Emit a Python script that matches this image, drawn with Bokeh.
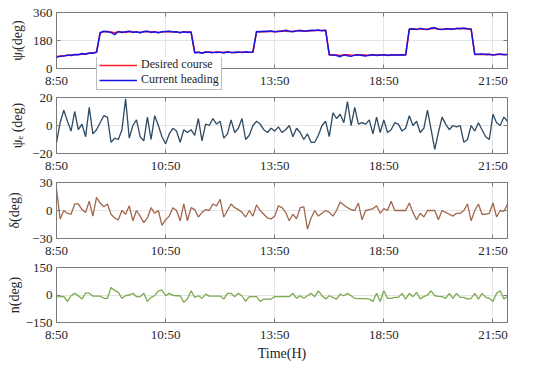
from bokeh.plotting import figure
from bokeh.layouts import column
from bokeh.models import FixedTicker, LinearAxis, Range1d, Legend, LegendItem
from bokeh.embed import file_html
from bokeh.resources import INLINE

# ---------------- data ----------------
x_ticks = [0, 30, 60, 90, 120]
x_tick_labels = ["8:50", "10:50", "13:50", "18:50", "21:50"]

desired_course = [
    77, 80, 82, 84, 86, 88, 90, 92, 95, 98, 102, 104,
    232, 236, 238, 234, 230, 236, 234, 232, 238, 236, 234, 232, 236, 238, 236, 234, 232, 234, 236, 238, 236, 234, 232, 234, 236, 234,
    105, 104, 102, 104, 106, 104, 103, 105, 104, 106, 104, 102, 104, 106, 104, 105, 104,
    236, 238, 236, 240, 238, 236, 240, 242, 240, 238, 240, 242, 244, 242, 240, 242, 244, 246, 244, 246,
    86, 88, 86, 84, 86, 88, 86, 85, 86, 88, 86, 84, 86, 86, 88, 86, 86, 88, 86, 86, 86, 88,
    252, 254, 252, 256, 254, 252, 256, 258, 254, 252, 254, 256, 254, 256, 258, 256, 254, 252,
    92, 90, 90, 92, 90, 88, 90, 92, 90, 90,
]
current_heading = [
    72, 78, 80, 86, 84, 90, 88, 96, 92, 100, 98, 104,
    228, 240, 236, 232, 218, 238, 232, 236, 240, 232, 236, 230, 238, 240, 232, 236, 230, 236, 238, 240, 234, 236, 230, 236, 232, 234,
    100, 104, 98, 106, 104, 102, 106, 104, 100, 108, 102, 104, 106, 102, 108, 104, 106,
    238, 236, 240, 238, 242, 236, 238, 240, 246, 240, 236, 242, 244, 240, 242, 246, 244, 248, 242, 246,
    88, 86, 84, 76, 88, 82, 78, 86, 88, 84, 80, 86, 88, 84, 86, 88, 84, 86, 88, 86, 88, 86,
    254, 256, 250, 258, 252, 250, 260, 262, 252, 250, 256, 254, 252, 258, 256, 260, 256, 254,
    90, 92, 94, 90, 92, 86, 90, 94, 88, 90,
]
psi_e = [
    -12, 2, 11, 3, -4, 10, -3, 1, -8, 13,
    -6, -3, 2, 7, 6, -12, -9, -10, -3, 19,
    -9, 0, 4, -8, -11, 6, -10, 7, 0, -8,
    -13, -6, -2, -4, -12, -3, -5, -3, -7, 5,
    -11, 1, 0, 5, 1, 3, -9, -6, 4, -5,
    -2, 5, -10, -7, 0, 3, 1, -3, -5, -2,
    -4, -1, -5, -3, 0, -8, -2, -5, -10, -6,
    -12, -12, -7, 0, 3, -8, 9, 5, 8, 2,
    17, 0, 13, 1, 2, 1, 4, -6, 6, -5,
    4, -5, -3, 2, 1, -4, -2, 7, 0, 3,
    -5, -2, 11, -3, -17, -5, 6, 1, -3, 0,
    -1, 0, -12, -10, 0, -4, 2, -3, -8, -10,
    8, 2, 0, 6, 3,
]
delta = [
    23, -9, 0, -3, -4, 7, 7, 1, -2, 10,
    -6, 14, 8, 4, 7, -4, -8, -10, 0, -4,
    5, -11, 0, -6, -13, -8, 3, -3, 0, -16,
    -10, -6, 3, 0, -11, 7, -11, 3, 1, -7,
    -2, 1, 0, 7, 5, 12, -7, 0, 7, 3,
    1, -2, -7, 0, -6, 6, 0, -4, -8, -9,
    -6, 5, 3, -2, -11, -4, -9, 3, 4, -20,
    -8, 0, -6, -3, 0, -2, -6, 0, 9, 6,
    3, 1, 0, 8, -10, 0, 1, 2, 5, -3,
    2, 0, 10, 0, 0, 0, 0, 8, -2, -10,
    -3, -7, 0, 0, 0, -10, 0, -2, -4, -6,
    -3, -3, 0, 7, -11, 0, 7, -4, -4, -3,
    8, -7, 0, -1, 7,
]
n_vals = [
    -10, -9, -7, -35, -4, 9, -4, -22, 10, 10,
    -6, -6, -6, -18, -18, 41, 25, 14, -18, -4,
    0, 9, -9, -9, 9, -35, -13, -4, 23, 27,
    -4, 9, -2, -4, -4, -40, -22, 23, -13, -4,
    -18, 5, -6, -6, -6, -6, -22, 9, 9, -9,
    9, -4, -35, -9, -9, -9, -35, -22, -22, -22,
    -9, -9, -9, -9, -9, 9, -18, -4, -18, -4,
    9, -9, 23, -4, -22, -4, -13, -22, 5, -4,
    9, -4, -18, -20, -20, -20, -22, -35, 9, -35,
    23, -18, -18, -13, -13, 9, -22, 9, -9, 14,
    -22, -9, 0, 23, -4, -7, -9, -18, 9, -18,
    9, -13, -13, -22, -18, 9, -22, 9, -13, -18,
    -35, 9, 23, -22, -9,
]
idx = list(range(len(desired_course)))

# ---------------- styling ----------------
FONT = "Liberation Serif"
TICK = "#7a7a7a"
GRID = "#e4e4e4"
LBL = "#262626"
RED = "#ff1f2a"
BLUE = "#1414e8"


def style_axis(ax, ticks, hidden=False):
    ax.ticker = FixedTicker(ticks=ticks)
    ax.major_tick_in = 4
    ax.major_tick_out = 0
    ax.minor_tick_in = 0
    ax.minor_tick_out = 0
    ax.axis_line_color = None
    ax.major_tick_line_color = TICK
    ax.major_label_text_font = FONT
    ax.major_label_text_color = LBL
    if hidden:
        ax.major_label_text_font_size = "0px"
        ax.major_label_standoff = 0
        ax.major_label_overrides = {t: "" for t in ticks}
    else:
        ax.major_label_text_font_size = "13px"


def make_fig(height, yticks, ylabel, ylab_standoff, top_b, bottom_b, xlabel=None):
    p = figure(width=527, height=height, output_backend="svg", toolbar_location=None,
               x_range=Range1d(0, 124), y_range=Range1d(yticks[0], yticks[-1]),
               min_border_left=56, min_border_right=20, min_border_top=top_b,
               min_border_bottom=bottom_b)
    p.outline_line_color = TICK
    p.outline_line_width = 1
    p.background_fill_color = "white"
    p.border_fill_color = "white"

    xa = p.xaxis[0]
    style_axis(xa, x_ticks)
    xa.major_label_overrides = dict(zip(x_ticks, x_tick_labels))
    xa.major_label_standoff = 4
    ya = p.yaxis[0]
    style_axis(ya, yticks)
    ya.major_label_standoff = 4
    ya.axis_label = ylabel
    ya.axis_label_text_font = FONT
    ya.axis_label_text_font_size = "14px"
    ya.axis_label_text_font_style = "normal"
    ya.axis_label_text_color = LBL
    ya.axis_label_standoff = ylab_standoff
    if xlabel:
        xa.axis_label = xlabel
        xa.axis_label_text_font = FONT
        xa.axis_label_text_font_size = "14px"
        xa.axis_label_text_font_style = "normal"
        xa.axis_label_text_color = LBL
        xa.axis_label_standoff = 1

    top = LinearAxis()
    style_axis(top, x_ticks, hidden=True)
    p.add_layout(top, "above")
    right = LinearAxis()
    style_axis(right, yticks, hidden=True)
    p.add_layout(right, "right")

    p.xgrid.ticker = FixedTicker(ticks=x_ticks)
    p.ygrid.ticker = FixedTicker(ticks=yticks)
    p.xgrid.grid_line_color = GRID
    p.ygrid.grid_line_color = GRID
    return p


# panel 1: frame 12..68
p1 = make_fig(90, [0, 180, 360], "ψₗ(deg)", 5, 12, 22)
p1.line(idx, desired_course, line_color=RED, line_width=1.5)
p1.line(idx, current_heading, line_color=BLUE, line_width=1.5)

# legend drawn in a small transparent figure that overlaps panel 1
# (the column aligns its plots' borders: 56 left, 20 right)
leg_fig = figure(width=56 + 128 + 20, height=34, output_backend="svg", toolbar_location=None,
                 x_axis_type=None, y_axis_type=None,
                 min_border_left=56, min_border_right=20, min_border_top=0, min_border_bottom=0,
                 x_range=Range1d(0, 1), y_range=Range1d(0, 1))
leg_fig.outline_line_color = None
leg_fig.background_fill_alpha = 0
leg_fig.border_fill_alpha = 0
# these lines lie outside the legend figure's ranges: only their legend glyphs show
g_des = leg_fig.line(idx, desired_course, line_color=RED, line_width=1.5)
g_cur = leg_fig.line(idx, current_heading, line_color=BLUE, line_width=1.5)
legend = Legend(items=[LegendItem(label="Desired course", renderers=[g_des]),
                       LegendItem(label="Current heading", renderers=[g_cur])],
                location=(1, 1))
legend.label_text_font = FONT
legend.label_text_font_size = "12px"
legend.label_text_color = LBL
legend.glyph_width = 38
legend.glyph_height = 12
legend.label_height = 12
legend.label_standoff = 4
legend.spacing = 0
legend.padding = 2
legend.margin = 0
legend.border_line_color = TICK
legend.border_line_width = 1
legend.background_fill_color = "white"
legend.background_fill_alpha = 1
leg_fig.add_layout(legend, "center")
leg_fig.margin = (-33, 0, -1, 39)

p2 = make_fig(85, [-20, 0, 20], "ψₑ (deg)", 4, 7, 22)
p2.line(idx, psi_e, line_color="#2e4a62", line_width=1.3)

p3 = make_fig(85, [-30, 0, 30], "δ(deg)", 7, 7, 22)
p3.line(idx, delta, line_color="#a0674e", line_width=1.3)

p4 = make_fig(103, [-150, 0, 150], "n(deg)", 1, 7, 40, xlabel="Time(H)")
p4.line(idx, n_vals, line_color="#7baa4f", line_width=1.3)

layout = column(p1, leg_fig, p2, p3, p4, spacing=0)

open("out.html", "w").write(file_html(layout, INLINE))
